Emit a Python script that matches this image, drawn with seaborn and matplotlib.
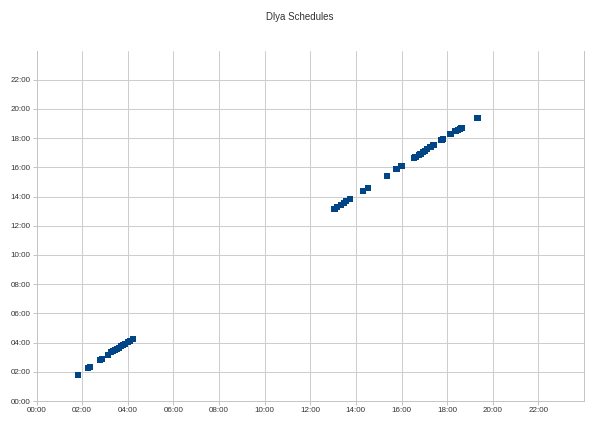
import matplotlib
matplotlib.use("Agg")
import matplotlib.pyplot as plt
import seaborn as sns
import pandas as pd

departure = ["01:49", "02:15", "02:20", "02:47", "02:52", "03:08", "03:16", "03:21", "03:26",
             "03:31", "03:37", "03:42", "03:47", "03:53", "04:01", "04:05", "04:14",
             "13:04", "13:10", "13:20", "13:28", "13:35", "13:44", "14:18", "14:31", "15:21",
             "15:47", "16:00", "16:32", "16:37", "16:45", "16:50", "16:56", "17:01", "17:08",
             "17:16", "17:24", "17:45", "17:50", "18:09", "18:22", "18:28", "18:33", "18:38",
             "19:20"]
arrival = ["01:47", "02:16", "02:20", "02:49", "02:53", "03:09", "03:20", "03:25", "03:29",
           "03:34", "03:38", "03:46", "03:50", "03:54", "04:02", "04:07", "04:15",
           "13:09", "13:17", "13:25", "13:34", "13:42", "13:50", "14:23", "14:35", "15:25",
           "15:53", "16:06", "16:38", "16:43", "16:51", "16:55", "17:03", "17:07", "17:16",
           "17:24", "17:32", "17:53", "17:57", "18:17", "18:29", "18:34", "18:38", "18:42",
           "19:23"]
tick_labels = ["00:00", "02:00", "04:00", "06:00", "08:00", "10:00", "12:00",
               "14:00", "16:00", "18:00", "20:00", "22:00"]


def to_hours(s):
    h, m = s.split(":")
    return int(h) + int(m) / 60.0


df = pd.DataFrame({"x": [to_hours(s) for s in departure],
                   "y": [to_hours(s) for s in arrival]})

sns.set_style("white")
plt.rcParams["font.family"] = ["Liberation Sans", "DejaVu Sans"]

fig = plt.figure(figsize=(6, 4.25), dpi=100)
ax = fig.add_axes([36.5 / 600, 1 - 401 / 425, (584 - 36.5) / 600, (401 - 50.5) / 425])

sns.scatterplot(data=df, x="x", y="y", marker="s", s=20, color="#004586",
                edgecolor="none", ax=ax, zorder=3)

ticks = [to_hours(t) for t in tick_labels]
ax.set_xlim(0, 24)
ax.set_ylim(0, 24)
ax.set_xticks(ticks)
ax.set_yticks(ticks)
ax.set_xticklabels(tick_labels)
ax.set_yticklabels(tick_labels)
ax.set_xlabel("")
ax.set_ylabel("")

ax.grid(True, color="#cccccc", linewidth=0.7)
ax.set_axisbelow(True)
ax.spines["top"].set_visible(False)
for side in ["left", "bottom", "right"]:
    ax.spines[side].set_color("#c4c4c4")
    ax.spines[side].set_linewidth(0.7)

ax.tick_params(axis="both", which="both", length=3, width=0.7, color="#c4c4c4",
               labelsize=5.8, labelcolor="#333333", pad=1.5, direction="out",
               left=True, bottom=True)

fig.text(0.5, 1 - 17 / 425, "Dlya Schedules", ha="center", va="center",
         fontsize=7, color="#333333")

fig.savefig("out.png", dpi=100, facecolor="white")
